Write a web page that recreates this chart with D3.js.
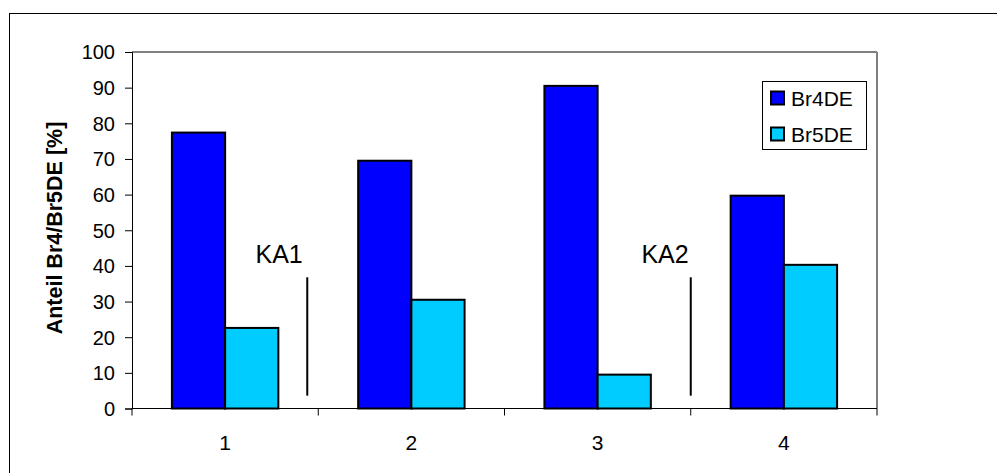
<!DOCTYPE html>
<html>
<head>
<meta charset="utf-8">
<script src="https://cdn.jsdelivr.net/npm/d3@7"></script>
<style>
  html, body { margin: 0; padding: 0; background: #fff; }
  svg { display: block; }
  text { font-family: Arial, "Liberation Sans", sans-serif; fill: #000; }
</style>
</head>
<body>
<svg id="chart" width="997" height="473"></svg>
<script>
// ---- data ----
const categories = ["1", "2", "3", "4"];
const seriesNames = ["Br4DE", "Br5DE"];
const br4de = [77.4, 69.5, 90.5, 59.7];
const br5de = [22.6, 30.5, 9.5, 40.3];
const yTicks = [0, 10, 20, 30, 40, 50, 60, 70, 80, 90, 100];
const yTitle = "Anteil Br4/Br5DE [%]";
// annotations: label, label position (category units), line position (category units), line value range
const annLabels = ["KA1", "KA2"];
const annLabelPos = [0.79, 2.862];
const annLabelVal = [40.8, 40.8];
const annLinePos = [0.941, 3.0];
const annLineFrom = [3.6, 3.6];
const annLineTo = [36.8, 36.8];
const colors = ["#0000FF", "#00CCFF"];

// ---- layout ----
const svg = d3.select("#chart");
const plot = { left: 132, right: 877, top: 52, bottom: 408.5 };

// outer frame (only top/left visible in the window)
svg.append("rect")
  .attr("x", 9.5).attr("y", 13.5)
  .attr("width", 1000).attr("height", 1000)
  .attr("fill", "none").attr("stroke", "#000").attr("stroke-width", 1);

const x0 = d3.scaleBand().domain(categories).range([plot.left, plot.right]).paddingInner(0).paddingOuter(0);
const xLin = d3.scaleLinear().domain([0, categories.length]).range([plot.left, plot.right]);
const barW = x0.step() / 3.5;
const x1 = d3.scaleBand().domain(seriesNames).range([0, barW * 2]);
const y = d3.scaleLinear().domain([0, 100]).range([plot.bottom, plot.top]);

// plot area border: top and right grey
svg.append("line").attr("x1", plot.left).attr("x2", plot.right).attr("y1", plot.top).attr("y2", plot.top)
  .attr("stroke", "#808080").attr("stroke-width", 2);
svg.append("line").attr("x1", plot.right).attr("x2", plot.right).attr("y1", plot.top).attr("y2", plot.bottom)
  .attr("stroke", "#808080").attr("stroke-width", 2);

// bars
const data = categories.map((c, i) => ({ cat: c, vals: [br4de[i], br5de[i]] }));
const groups = svg.append("g").selectAll("g").data(data).join("g")
  .attr("transform", d => `translate(${x0(d.cat) + (x0.step() - barW * 2) / 2},0)`);
groups.selectAll("rect").data(d => d.vals.map((v, j) => ({ v, s: seriesNames[j], j })))
  .join("rect")
  .attr("x", d => x1(d.s))
  .attr("y", d => y(d.v))
  .attr("width", x1.bandwidth())
  .attr("height", d => y(0) - y(d.v))
  .attr("fill", d => colors[d.j])
  .attr("stroke", "#000").attr("stroke-width", 2);

// y axis
const yAxis = d3.axisLeft(y).tickValues(yTicks).tickSize(7).tickPadding(10).tickFormat(d3.format("d"));
const gy = svg.append("g").attr("transform", `translate(${plot.left},0)`).call(yAxis);
gy.select(".domain").attr("stroke", "#000").attr("stroke-width", 1);
gy.selectAll(".tick line").attr("stroke", "#000");
gy.selectAll(".tick text").attr("font-size", 20).attr("font-family", "Arial, 'Liberation Sans', sans-serif")
  .attr("fill", "#000").attr("dy", "0.34em");

// x axis: boundary ticks + labels
const gx = svg.append("g").attr("transform", `translate(0,${plot.bottom})`);
gx.append("line").attr("x1", plot.left).attr("x2", plot.right).attr("y1", 0).attr("y2", 0)
  .attr("stroke", "#000").attr("stroke-width", 1);
const bounds = d3.range(categories.length + 1).map(i => xLin(i));
gx.selectAll("line.b").data(bounds).join("line").attr("class", "b")
  .attr("x1", d => d).attr("x2", d => d).attr("y1", 0).attr("y2", 7)
  .attr("stroke", "#000").attr("stroke-width", 1);
gx.selectAll("text").data(categories).join("text")
  .attr("x", d => x0(d) + x0.bandwidth() / 2)
  .attr("y", 41)
  .attr("text-anchor", "middle")
  .attr("font-size", 21)
  .text(d => d);

// y title
svg.append("text")
  .attr("transform", `translate(62,228) rotate(-90)`)
  .attr("text-anchor", "middle")
  .attr("font-size", 21.5)
  .attr("font-weight", "bold")
  .text(yTitle);

// annotations
annLabels.forEach((lab, i) => {
  svg.append("text").attr("x", xLin(annLabelPos[i])).attr("y", y(annLabelVal[i]))
    .attr("text-anchor", "middle").attr("font-size", 25).text(lab);
  svg.append("line")
    .attr("x1", xLin(annLinePos[i])).attr("x2", xLin(annLinePos[i]))
    .attr("y1", y(annLineFrom[i])).attr("y2", y(annLineTo[i]))
    .attr("stroke", "#000").attr("stroke-width", 2);
});

// legend
const lg = svg.append("g").attr("transform", "translate(762.5,81.5)");
lg.append("rect").attr("width", 104).attr("height", 68)
  .attr("fill", "#fff").attr("stroke", "#000").attr("stroke-width", 1);
seriesNames.forEach((s, i) => {
  lg.append("rect").attr("x", 8.5).attr("y", 10 + i * 36).attr("width", 13).attr("height", 13)
    .attr("fill", colors[i]).attr("stroke", "#000").attr("stroke-width", 2);
  lg.append("text").attr("x", 28.5).attr("y", 24.5 + i * 36).attr("font-size", 21).text(s);
});
</script>
</body>
</html>
